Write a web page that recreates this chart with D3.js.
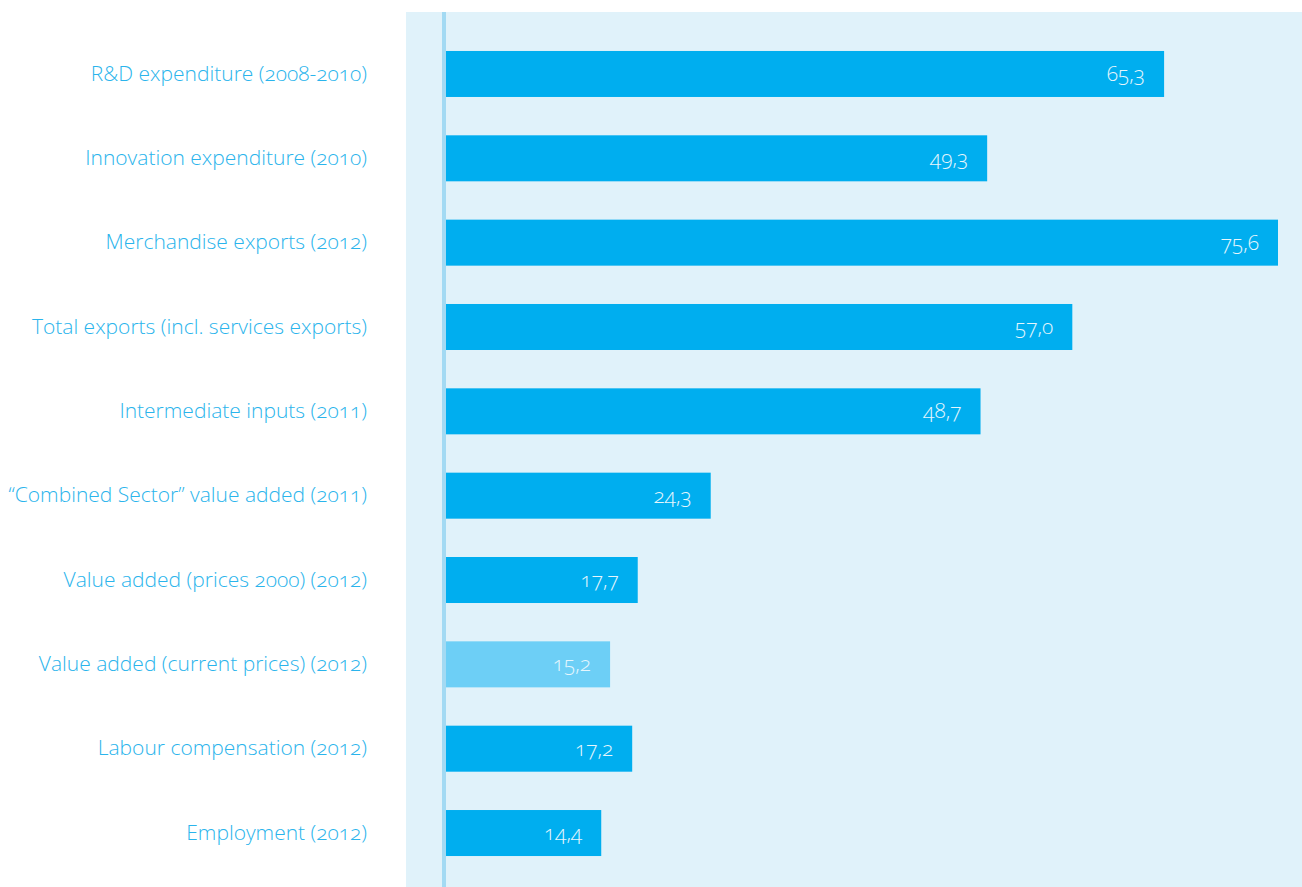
<!DOCTYPE html>
<html>
<head>
<meta charset="utf-8">
<script src="https://cdn.jsdelivr.net/npm/d3@7"></script>
<style>
  body { margin: 0; background: #fff; }
  svg text { font-family: "Open Sans", "Noto Sans", sans-serif; font-variant-numeric: oldstyle-nums; }
</style>
</head>
<body>
<div id="chart"></div>
<script>
var categories = [
    "R&D expenditure (2008-2010)",
    "Innovation expenditure (2010)",
    "Merchandise exports (2012)",
    "Total exports (incl. services exports)",
    "Intermediate inputs (2011)",
    "\u201cCombined Sector\u201d value added (2011)",
    "Value added (prices 2000) (2012)",
    "Value added (current prices) (2012)",
    "Labour compensation (2012)",
    "Employment (2012)"
];
var values = [65.3, 49.3, 75.6, 57.0, 48.7, 24.3, 17.7, 15.2, 17.2, 14.4];
var highlighted = ["Value added (current prices) (2012)"];

var width = 1302, height = 887;

var svg = d3.select("#chart").append("svg")
    .attr("width", width)
    .attr("height", height);

// light panel behind the bars
svg.append("rect")
    .attr("x", 406).attr("y", 12)
    .attr("width", width - 406).attr("height", height - 12)
    .attr("fill", "#e0f2fa");

var x = d3.scaleLinear().domain([0, 75.6]).range([442, 1278]);
var y = d3.scaleBand().domain(categories).range([31.8, 875.2])
    .paddingInner(0.4545).paddingOuter(0.2273);

var fmt = d => d3.format(".1f")(d).replace(".", ",");

svg.selectAll(".bar")
    .data(values)
    .enter()
    .append("rect")
        .attr("class", "bar")
        .attr("x", x(0))
        .attr("y", (d, i) => y(categories[i]))
        .attr("width", d => x(d) - x(0))
        .attr("height", y.bandwidth())
        .attr("fill", (d, i) => highlighted.includes(categories[i]) ? "#6dcff6" : "#00aeef");

// vertical axis line
svg.append("line")
    .attr("x1", 444).attr("x2", 444)
    .attr("y1", 12).attr("y2", height)
    .attr("stroke", "#a3daf3").attr("stroke-width", 4);

svg.selectAll(".val")
    .data(values)
    .enter()
    .append("text")
        .attr("class", "val")
        .attr("x", d => x(d) - 19)
        .attr("y", (d, i) => y(categories[i]) + y.bandwidth() / 2 + 7)
        .attr("text-anchor", "end")
        .attr("font-size", "21px")
        .attr("font-weight", 300)
        .attr("fill", "#e6f6fd")
        .text(d => fmt(d));

var yAxis = d3.axisLeft(y).tickSize(0).tickPadding(0);
var gy = svg.append("g")
    .attr("transform", "translate(367,0)")
    .call(yAxis);
gy.select(".domain").remove();
gy.selectAll("text")
    .attr("font-size", "21px")
    .attr("font-weight", 300)
    .attr("fill", "#2ab4ec")
    .attr("dy", "0.32em");
</script>
</body>
</html>
